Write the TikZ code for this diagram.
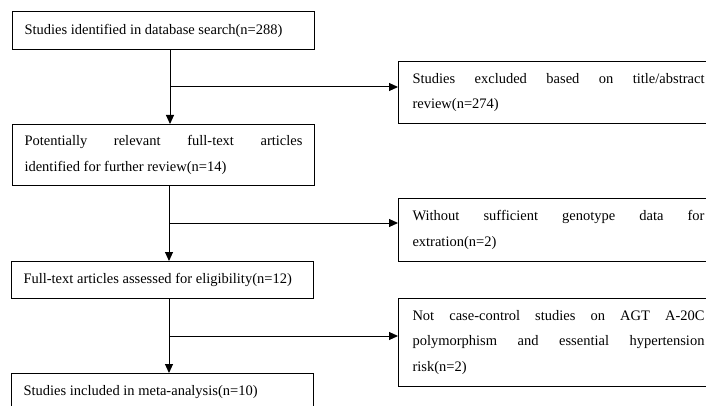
\documentclass[tikz,border=0pt]{standalone}
\usepackage{fontspec}
\setmainfont{Liberation Serif}
\usetikzlibrary{arrows.meta}
\newcommand\boxfontsetup{\fontsize{14.5}{25.5}\selectfont\hyphenpenalty=10000\exhyphenpenalty=10000\relax}
\begin{document}
\begin{tikzpicture}[x=1pt,y=-1pt,
  box/.style={draw, line width=1pt, anchor=north west, inner ysep=0pt,
    font=\boxfontsetup},
  lbox/.style={box, inner xsep=12pt, text width=278pt, align=justify},
  rbox/.style={box, inner xsep=14pt, text width=292pt, align=justify},
  conn/.style={line width=1pt},
  arr/.style={conn, -{Triangle[length=9pt,width=8pt]}}]
\useasboundingbox (0,0) rectangle (706,406);
\clip (0,0) rectangle (706,406);
\node[lbox, minimum height=38pt] (a1) at (12,11) {Studies identified in database search(n=288)};
\node[lbox, minimum height=61pt] (a2) at (12,124) {Potentially relevant full-text articles\linebreak identified for further review(n=14)};
\node[lbox, minimum height=37pt] (a3) at (11,261) {Full-text articles assessed for eligibility(n=12)};
\node[lbox, minimum height=38pt] (a4) at (11,373) {Studies included in meta-analysis(n=10)};
\node[rbox, minimum height=62pt] (r1) at (398,61) {Studies excluded based on title/abstract\linebreak review(n=274)};
\node[rbox, minimum height=63pt] (r2) at (398,198) {Without sufficient genotype data for\linebreak extration(n=2)};
\node[rbox, minimum height=88pt] (r3) at (398,298) {Not case-control studies on AGT A-20C\linebreak polymorphism and essential hypertension\linebreak risk(n=2)};
\coordinate (b1) at (170,87);
\coordinate (b2) at (169,223);
\coordinate (b3) at (169,336);
\draw[arr] (b1 |- a1.south) -- (b1 |- a2.north);
\draw[arr] (b1) -- (b1 -| r1.west);
\draw[arr] (b2 |- a2.south) -- (b2 |- a3.north);
\draw[arr] (b2) -- (b2 -| r2.west);
\draw[arr] (b3 |- a3.south) -- (b3 |- a4.north);
\draw[arr] (b3) -- (b3 -| r3.west);
\end{tikzpicture}
\end{document}
